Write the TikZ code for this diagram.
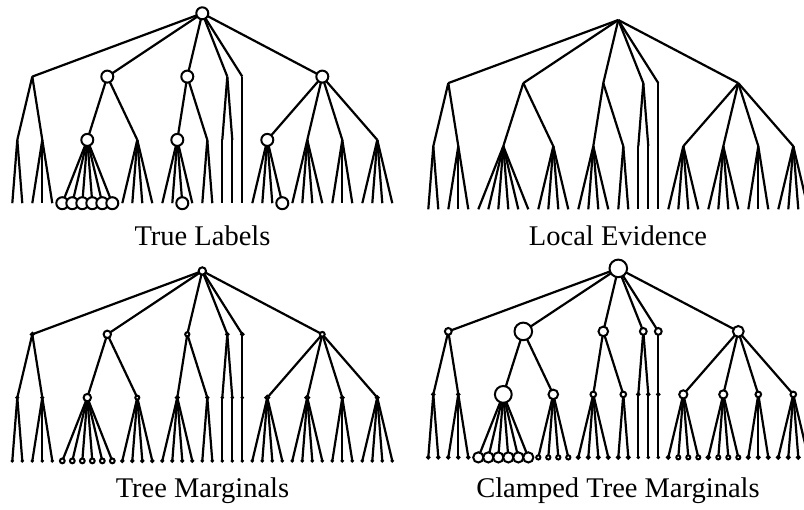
\documentclass[tikz,border=0pt]{standalone}
\usepackage{fontspec}
\setmainfont{Liberation Serif}
\usetikzlibrary{backgrounds}

% Tree: name/parent/level/leaf position/radius in each of the four panels
% (radius 0 = no marker, the node is a bare branching point)
\def\treedata{%
R/R/0/19/6/0/3.7/8.8,
A/R/1/2/0/0/1.4/3.4,
B/R/1/9.5/6/0/3.7/8.8,
C/R/1/17.5/6/0/2.1/4.8,
D/R/1/21.5/0/0/1.1/3.4,
E/R/1/23/0/0/1.1/3.4,
F/R/1/31/6/0/2.4/5.4,
A1/A/2/0.5/0/0/0.8/1.1,
A2/A/2/3/0/0/0.8/1.1,
B1/B/2/7.5/6/0/3.7/8.4,
B2/B/2/12.5/0/0/2.0/4.8,
C1/C/2/16.5/6/0/1.4/2.8,
C2/C/2/19.5/0/0/1.0/2.8,
D1/D/2/21/0/0/0.5/1.1,
D2/D/2/22/0/0/0.5/1.1,
E1/E/2/23/0/0/0.5/1.1,
F1/F/2/25.5/6/0/1.8/4.1,
F2/F/2/29.5/0/0/1.8/4.1,
F3/F/2/33/0/0/1.3/2.8,
F4/F/2/36.5/0/0/1.3/2.8,
L0/A1/3/0/0/0/0.5/1.1,
L1/A1/3/1/0/0/0.5/1.1,
L2/A2/3/2/0/0/0.5/1.1,
L3/A2/3/3/0/0/0.5/1.1,
L4/A2/3/4/0/0/0.5/1.1,
L5/B1/3/5/6/0/2.4/5.1,
L6/B1/3/6/6/0/2.4/5.1,
L7/B1/3/7/6/0/2.4/5.1,
L8/B1/3/8/6/0/2.4/5.1,
L9/B1/3/9/6/0/2.4/5.1,
L10/B1/3/10/6/0/2.4/5.1,
L11/B2/3/11/0/0/1.0/2.1,
L12/B2/3/12/0/0/1.0/2.1,
L13/B2/3/13/0/0/1.0/2.1,
L14/B2/3/14/0/0/1.0/2.1,
L15/C1/3/15/0/0/0.8/1.3,
L16/C1/3/16/0/0/0.8/1.3,
L17/C1/3/17/6/0/0.8/1.3,
L18/C1/3/18/0/0/0.8/1.3,
L19/C2/3/19/0/0/0.6/1.3,
L20/C2/3/20/0/0/0.6/1.3,
L21/D1/3/21/0/0/0.5/0.5,
L22/D2/3/22/0/0/0.5/0.5,
L23/E1/3/23/0/0/0.5/0.5,
L24/F1/3/24/0/0/0.6/1.3,
L25/F1/3/25/0/0/0.6/2.0,
L26/F1/3/26/0/0/0.6/2.0,
L27/F1/3/27/6/0/0.6/2.0,
L28/F2/3/28/0/0/0.6/1.6,
L29/F2/3/29/0/0/0.6/2.0,
L30/F2/3/30/0/0/0.6/2.0,
L31/F2/3/31/0/0/0.6/2.0,
L32/F3/3/32/0/0/0.6/1.3,
L33/F3/3/33/0/0/0.6/1.3,
L34/F3/3/34/0/0/0.6/1.3,
L35/F4/3/35/0/0/0.6/1.3,
L36/F4/3/36/0/0/0.6/1.3,
L37/F4/3/37/0/0/0.6/1.3,
L38/F4/3/38/0/0/0.6/1.3}

% #1 name prefix, #2 radius column, #3 x of first leaf, #4 y of root, #5 level spacing
\newcommand\drawtree[5]{%
  \foreach \nm/\pa/\lv/\ix/\ra/\rb/\rc/\rd in \treedata {%
    \ifcase#2\or\let\rr\ra\or\let\rr\rb\or\let\rr\rc\or\let\rr\rd\fi
    \pgfmathsetmacro\px{#3+10*\ix}%
    \pgfmathsetmacro\py{#4+#5*\lv}%
    \ifdim\rr pt>0pt
      \node[bead=\rr] (#1-\nm) at (\px,\py) {};
    \else
      \coordinate (#1-\nm) at (\px,\py);
    \fi
  }%
  \begin{pgfonlayer}{background}
    \foreach \nm/\pa/\lv/\ix/\ra/\rb/\rc/\rd in \treedata {%
      \ifnum\lv>0 \draw[edge] (#1-\pa) -- (#1-\nm);\fi
    }%
  \end{pgfonlayer}%
}

\begin{document}
\begin{tikzpicture}[x=1pt, y=-1pt,
  edge/.style={line width=2.2pt, black},
  bead/.style={circle, draw=black, fill=white, line width=2pt,
               inner sep=0pt, outer sep=0pt, minimum size=2*#1},
  caption/.style={anchor=base, inner sep=0pt, font=\fontsize{28.5}{34}\selectfont}]
  \useasboundingbox (0,0) rectangle (804,510);

  \drawtree{tl}{1}{12.3}{13.3}{63.3}
  \drawtree{tr}{2}{428.3}{20}{63.1}
  \drawtree{bl}{3}{12.3}{271}{63.3}
  \drawtree{br}{4}{428.3}{268.4}{63}

  \node[caption] (captl) at (202.5,246) {True Labels};
  \node[caption] (captr) at (618,246) {Local Evidence};
  \node[caption] (capbl) at (202.5,497.5) {Tree Marginals};
  \node[caption] (capbr) at (618,497.5) {Clamped Tree Marginals};
\end{tikzpicture}
\end{document}
